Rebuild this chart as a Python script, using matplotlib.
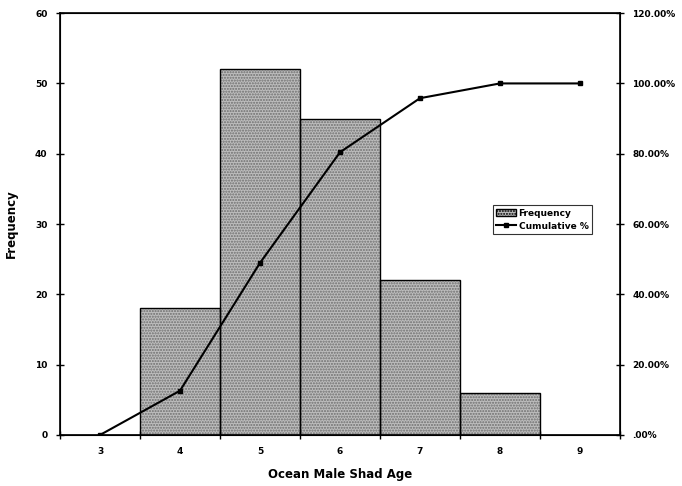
import numpy as np
import matplotlib
matplotlib.use("Agg")
import matplotlib.pyplot as plt
from matplotlib.ticker import FixedLocator, FuncFormatter

ages = ["3", "4", "5", "6", "7", "8", "9"]
frequency = [0, 18, 52, 45, 22, 6, 0]
cumulative_pct = [0.0, 12.59, 48.95, 80.42, 95.80, 100.0, 100.0]

plt.rcParams["font.family"] = ["DejaVu Sans"]
plt.rcParams["font.weight"] = "bold"

fig = plt.figure(figsize=(6.82, 4.86), dpi=100)
ax = fig.add_axes([0.088, 0.105, 0.821, 0.868])
x = np.arange(len(ages))

# stippled grey bars: base fill, dotted texture, then black outline
ax.bar(x, frequency, width=1.0, color="#bdbdbd", edgecolor="none", zorder=1)
ax.bar(x, frequency, width=1.0, color="none", edgecolor="#6e6e6e", hatch="......",
       linewidth=0, zorder=2)
bars = ax.bar(x, frequency, width=1.0, color="none", edgecolor="black", linewidth=1.0,
              zorder=3)

ax.set_xlim(-0.5, len(ages) - 0.5)
ax.set_ylim(0, 60)
ax.set_yticks(range(0, 61, 10))
ax.xaxis.set_major_locator(FixedLocator(np.arange(-0.5, len(ages), 1.0)))
ax.xaxis.set_major_formatter(FuncFormatter(lambda v, p: ""))
ax.xaxis.set_minor_locator(FixedLocator(x))
ax.set_xticklabels(ages, minor=True)
ax.tick_params(axis="x", which="minor", length=0, labelsize=6.5, pad=9)
ax.tick_params(axis="x", which="major", direction="inout", length=6, width=1)
ax.tick_params(axis="y", direction="inout", length=6, width=1, labelsize=6.5, pad=6)
for s in ax.spines.values():
    s.set_linewidth(1.2)

ax.set_xlabel("Ocean Male Shad Age", fontsize=8.5, fontweight="bold", labelpad=8)
ax.set_ylabel("Frequency", fontsize=8.5, fontweight="bold", labelpad=12)

ax2 = ax.twinx()
ax2.set_ylim(0, 120)
ax2.set_yticks(range(0, 121, 20))
ax2.yaxis.set_major_formatter(
    FuncFormatter(lambda v, p: ".00%" if v == 0 else f"{v:.2f}%"))
ax2.tick_params(axis="y", direction="inout", length=6, width=1, labelsize=6.5, pad=6)
line, = ax2.plot(x, cumulative_pct, color="black", linewidth=1.5, marker="s",
                 markersize=3.5, zorder=5)

ax2.legend([bars, line], ["Frequency", "Cumulative %"], loc="upper left",
           bbox_to_anchor=(0.765, 0.555), fontsize=6.5, frameon=True, fancybox=False,
           edgecolor="black", handlelength=2.2, handletextpad=0.3, borderpad=0.35,
           labelspacing=0.45)
leg = ax2.get_legend()
leg.get_frame().set_linewidth(0.8)
leg.legend_handles[0].set_facecolor("#bdbdbd")
leg.legend_handles[0].set_hatch("......")

fig.savefig("out.png", dpi=100)
